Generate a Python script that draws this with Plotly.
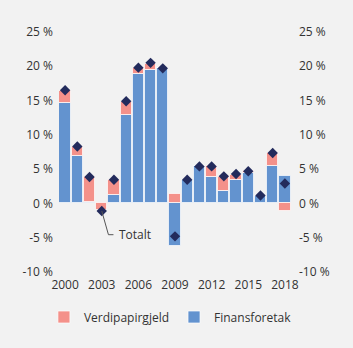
import plotly.graph_objects as go

years = list(range(2000, 2019))
finansforetak = [14.7, 6.85, 0.25, 0.0, 1.3, 12.9, 18.9, 19.4, 19.8, -6.2,
                 3.45, 5.45, 3.9, 1.75, 3.45, 4.4, 1.1, 5.45, 4.0]
verdipapirgjeld = [1.7, 1.45, 3.55, -1.0, 2.15, 1.9, 0.9, 1.0, 0.0, 1.4,
                   0.0, 0.0, 1.5, 2.1, 0.75, 0.3, 0.0, 1.9, -1.1]
totalt = [16.5, 8.3, 3.85, -1.1, 3.45, 14.9, 19.8, 20.5, 19.7, -4.8,
          3.45, 5.4, 5.4, 3.95, 4.3, 4.7, 1.15, 7.35, 2.9]
tick_years = [2000, 2003, 2006, 2009, 2012, 2015, 2018]
y_ticks = [-10, -5, 0, 5, 10, 15, 20, 25]
y_labels = [f"{v} %" for v in y_ticks]

BLUE = "#6393cf"
SALMON = "#f4918a"
NAVY = "#232b5c"
BG = "#f2f2f2"
FONT = dict(family="Open Sans", size=12, color="#333333")

fig = go.Figure()
fig.add_trace(go.Bar(x=years, y=finansforetak, name="Finansforetak",
                     marker=dict(color=BLUE, line=dict(color="rgba(255,255,255,0.7)", width=1)),
                     width=0.92, legendrank=2))
fig.add_trace(go.Bar(x=years, y=verdipapirgjeld, name="Verdipapirgjeld",
                     marker=dict(color=SALMON, line=dict(color="rgba(255,255,255,0.7)", width=1)),
                     width=0.92, legendrank=1))
fig.add_trace(go.Scatter(x=years, y=totalt, mode="markers", name="Totalt",
                         marker=dict(symbol="diamond", size=8, color=NAVY),
                         showlegend=False))
fig.add_trace(go.Scatter(x=[years[0]], y=[totalt[0]], yaxis="y2", mode="markers",
                         marker=dict(opacity=0), showlegend=False, hoverinfo="skip"))

fig.add_shape(type="path", xref="x", yref="y",
              path="M 2003,-1.1 L 2003.55,-4.56 L 2003.96,-4.56",
              line=dict(color="#555555", width=1))
fig.add_annotation(x=2004.22, y=-4.56, xref="x", yref="y", text="Totalt",
                   showarrow=False, xanchor="left", yanchor="middle", font=FONT)

fig.update_layout(
    width=353, height=348,
    margin=dict(l=59, r=62, t=32, b=76, autoexpand=False),
    paper_bgcolor=BG, plot_bgcolor=BG,
    barmode="relative", bargap=0,
    font=FONT,
    showlegend=True,
    legend=dict(orientation="h", x=-0.065, xanchor="left", y=-0.1875, yanchor="middle",
                font=FONT, bgcolor="rgba(0,0,0,0)", itemwidth=30),
    xaxis=dict(range=[1999.5, 2018.5], tickvals=tick_years, showgrid=False,
               zeroline=False, showline=False, ticks="", tickfont=FONT,
               ticklabelstandoff=4),
    yaxis=dict(range=[-10, 25], tickvals=y_ticks, ticktext=y_labels, showgrid=False,
               zeroline=False, showline=False, ticks="", tickfont=FONT,
               ticklabelstandoff=5),
    yaxis2=dict(range=[-10, 25], tickvals=y_ticks, ticktext=y_labels, overlaying="y",
                side="right", showgrid=False, zeroline=False, showline=False,
                tickfont=FONT, ticklabelstandoff=7),
)
fig.write_html("out.html")
